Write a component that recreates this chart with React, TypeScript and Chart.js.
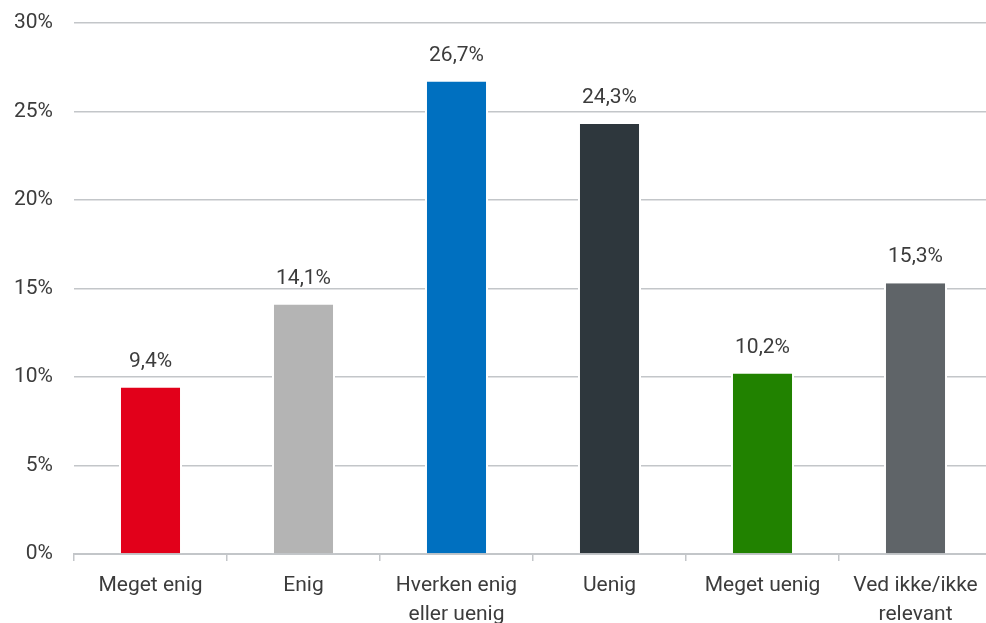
import React, { useEffect, useRef } from "react";
import { Chart, registerables } from "chart.js";

Chart.register(...registerables);

const categories: (string | string[])[] = [
  "Meget enig",
  "Enig",
  ["Hverken enig", "eller uenig"],
  "Uenig",
  "Meget uenig",
  ["Ved ikke/ikke", "relevant"],
];
const values = [9.4, 14.1, 26.7, 24.3, 10.2, 15.3];
const barColors = ["#e2001a", "#b4b4b4", "#0070c0", "#2e373d", "#218200", "#5f6468"];
const yTicks = [0, 5, 10, 15, 20, 25, 30];

const FONT = "Roboto, 'Noto Sans', sans-serif";
const TEXT = "#3c3c3c";
const GRID = "#c3c6c9";

const fmt = (v: number) => v.toFixed(1).replace(".", ",") + "%";

const valueLabels = {
  id: "valueLabels",
  afterDatasetsDraw(chart: any) {
    const ctx = chart.ctx;
    const meta = chart.getDatasetMeta(0);
    ctx.save();
    ctx.font = `21px ${FONT}`;
    ctx.fillStyle = TEXT;
    ctx.textAlign = "center";
    ctx.textBaseline = "middle";
    meta.data.forEach((bar: any, i: number) => {
      ctx.fillText(fmt(values[i]), bar.x, bar.y - 26);
    });
    ctx.restore();
  },
};

export default function App() {
  const ref = useRef<HTMLCanvasElement | null>(null);
  useEffect(() => {
    document.body.style.margin = "0";
    const canvas = ref.current!;
    const chart = new Chart(canvas, {
      type: "bar",
      data: {
        labels: categories,
        datasets: [
          {
            data: values,
            backgroundColor: barColors,
            borderColor: "#ffffff",
            borderWidth: { left: 2, right: 2, top: 0, bottom: 0 } as any,
            borderSkipped: false as any,
            barPercentage: 0.412,
            categoryPercentage: 1,
          },
        ],
      },
      options: {
        responsive: false,
        animation: false,
        devicePixelRatio: 1,
        layout: { padding: { top: 23, right: 8, left: 0, bottom: 0 } },
        plugins: {
          legend: { display: false },
          tooltip: { enabled: false },
        },
        scales: {
          x: {
            offset: true,
            grid: {
              offset: true,
              drawOnChartArea: false,
              drawTicks: true,
              tickLength: 7,
              color: GRID,
              lineWidth: 1.5,
            },
            border: { display: true, color: GRID, width: 2 },
            ticks: {
              color: TEXT,
              font: { family: FONT, size: 21, lineHeight: "29px" as any },
              padding: 10,
              maxRotation: 0,
              autoSkip: false,
            },
            afterFit: (scale: any) => {
              scale.height = 69;
            },
          },
          y: {
            min: 0,
            max: 30,
            afterBuildTicks: (scale: any) => {
              scale.ticks = yTicks.map((v) => ({ value: v }));
            },
            grid: { drawTicks: false, color: GRID, lineWidth: 1.5 },
            border: { display: false },
            ticks: {
              color: TEXT,
              font: { family: FONT, size: 21 },
              padding: 21,
              callback: (v: any) => v + "%",
            },
            afterFit: (scale: any) => {
              scale.width = 74;
              scale.paddingTop = 0;
              scale.paddingBottom = 0;
            },
          },
        },
      },
      plugins: [valueLabels],
    });
    return () => chart.destroy();
  }, []);
  return (
    <div style={{ position: "fixed", left: 0, top: 0, width: 986, height: 623, overflow: "hidden", background: "#fff" }}>
      <canvas ref={ref} width={1000} height={623} style={{ display: "block" }} />
    </div>
  );
}
